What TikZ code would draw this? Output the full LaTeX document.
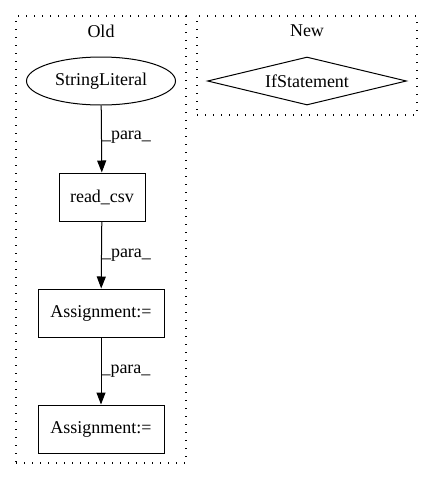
\documentclass[tikz,border=0pt]{standalone}
\usepackage{fontspec}
\setmainfont{Liberation Serif}
\usetikzlibrary{arrows.meta, positioning, shapes.geometric}

\begin{document}
\begin{tikzpicture}[x=1pt, y=-1pt,
    cluster/.style = {rectangle, draw, line width=1.2pt, dash pattern=on 1.2pt off 6.8pt,
                      inner sep=0pt},
    label/.style = {font=\fontsize{18}{20}\selectfont},
    box/.style = {rectangle, draw, line width=1pt, inner sep=0pt,
                  minimum height=48pt, font=\fontsize{18}{20}\selectfont},
    literal/.style = {ellipse, draw, line width=1pt, inner sep=0pt,
                      minimum width=149pt, minimum height=48pt,
                      font=\fontsize{18}{20}\selectfont},
    cond/.style = {diamond, draw, line width=1pt, inner sep=0pt, aspect=4.1,
                   minimum width=199pt, minimum height=48pt,
                   font=\fontsize{18}{20}\selectfont},
    arr/.style = {-{Triangle[length=12pt, width=9pt]}, line width=1pt},
    edgelabel/.style = {font=\fontsize{18}{20}\selectfont, anchor=west, inner sep=0pt},
]
\useasboundingbox (0,0) rectangle (432,480);

%% ---- Clusters ----
\node[cluster, minimum width=170pt, minimum height=447pt] (old) at (101, 239.5) {};
\node[label] (oldlabel) at (101, 31) {Old};
\node[cluster, minimum width=220pt, minimum height=99pt] (new) at (307, 65.5) {};
\node[label] (newlabel) at (307, 31) {New};

%% ---- Old nodes ----
\node[literal] (lit) at (101, 81) {StringLiteral};
\node[box, minimum width=86pt] (read) at (102, 197) {read\_csv};
\node[box, minimum width=126pt] (asg1) at (101, 313) {Assignment:=};
\node[box, minimum width=126pt] (asg2) at (101, 429) {Assignment:=};

%% ---- New nodes ----
\node[cond] (ifs) at (307, 81) {IfStatement};

%% ---- Edges ----
\draw[arr] (lit) -- (read) node[edgelabel, midway, yshift=2pt] {\_para\_};
\draw[arr] (read) -- (asg1) node[edgelabel, midway] {\_para\_};
\draw[arr] (asg1) -- (asg2) node[edgelabel, midway] {\_para\_};

\end{tikzpicture}
\end{document}
